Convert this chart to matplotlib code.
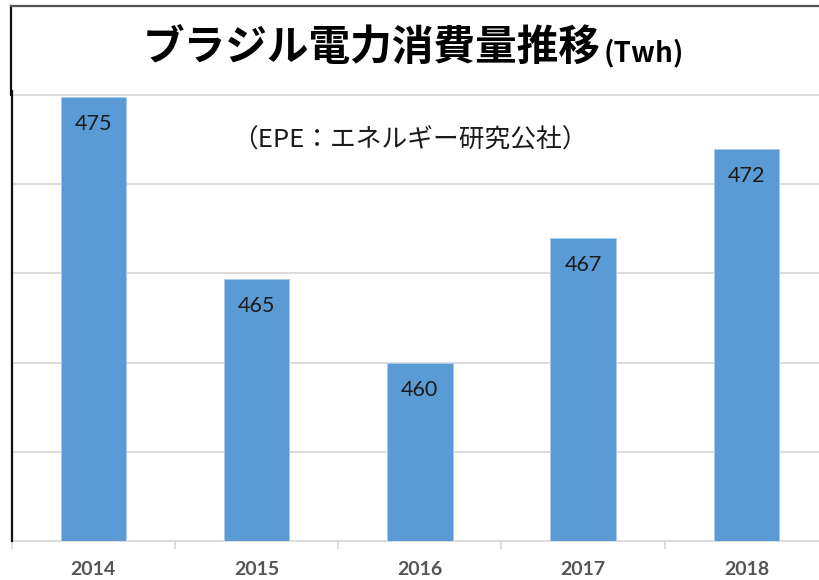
import matplotlib
matplotlib.use("Agg")
import matplotlib.pyplot as plt
from matplotlib.lines import Line2D

plt.rcParams['font.family'] = ['Noto Sans CJK JP', 'DejaVu Sans']

years = ['2014', '2015', '2016', '2017', '2018']
consumption = [474.9, 464.7, 460.0, 467.0, 472.0]  # TWh
value_labels = ['475', '465', '460', '467', '472']
grid_levels = [455, 460, 465, 470, 475]

title = 'ブラジル電力消費量推移'
unit = '(Twh)'
source = '（EPE：エネルギー研究公社）'

W, H = 819, 580
fig = plt.figure(figsize=(W / 100, H / 100), dpi=100)

# plot area in pixels: x 11.7..828 (cropped on the right), y 541 (450) .. 95 (475)
ymin, ymax = 450, 475.2
px_per_unit = (541 - 95) / 25
top_px = 541 - (ymax - ymin) * px_per_unit
ax = fig.add_axes([11.7 / W, (H - 541) / H, (828 - 11.7) / W, (541 - top_px) / H])

x = list(range(len(years)))
ax.bar(x, [v - ymin for v in consumption], bottom=ymin, width=0.40,
       color='#5b9bd5', edgecolor='#a9c9e9', linewidth=0.7, zorder=3)

for i, (v, lab) in enumerate(zip(consumption, value_labels)):
    ax.annotate(lab, xy=(i, v), xytext=(0, -27 * 0.72), textcoords='offset points',
                ha='center', va='center', fontsize=15.5, family=['Lato', 'DejaVu Sans'],
                color='#1a1a1a', zorder=4)

ax.set_xlim(-0.5, 4.5)
ax.set_ylim(ymin, ymax)
ax.set_yticks(grid_levels)
ax.yaxis.grid(True, color='#d9d9d9', linewidth=1.3, zorder=0)
ax.tick_params(axis='y', left=False, labelleft=False)

ax.set_xticks(x)
ax.set_xticklabels(years, fontsize=14, fontweight='bold', family=['Lato', 'DejaVu Sans'],
                   color='#555555')
ax.tick_params(axis='x', which='major', length=0, pad=14.5)
ax.set_xticks([i - 0.5 for i in range(len(years) + 1)], minor=True)
ax.tick_params(axis='x', which='minor', length=6, width=1.2, color='#d9d9d9')

for s in ['top', 'right']:
    ax.spines[s].set_visible(False)
ax.spines['bottom'].set_color('#d9d9d9')
ax.spines['bottom'].set_linewidth(1.3)
ax.spines['left'].set_color('#111111')
ax.spines['left'].set_linewidth(1.6)
ax.spines['left'].set_zorder(5)

# chart frame, cropped: top edge and the upper part of the left edge
fig.add_artist(Line2D([11.3 / W, 11.3 / W], [(H - 95) / H, (H - 5.5) / H],
                      transform=fig.transFigure, color='#111111', linewidth=1.6))
fig.add_artist(Line2D([11.3 / W, 1.0], [(H - 5.5) / H, (H - 5.5) / H],
                      transform=fig.transFigure, color='#555555', linewidth=1.6))

t = fig.text(143 / W, 1 - 48 / H, title, ha='left', va='center',
             fontsize=30, fontweight='bold', color='#000000')
ax.annotate(unit, xy=(1, 0.04), xycoords=t, xytext=(2, 0), textcoords='offset points',
            ha='left', va='bottom', fontsize=20, fontweight='bold', color='#000000',
            annotation_clip=False)

fig.text(410 / W, 1 - 141 / H, source, ha='center', va='center',
         fontsize=18.5, color='#1a1a1a')

fig.savefig('out.png', dpi=100)
